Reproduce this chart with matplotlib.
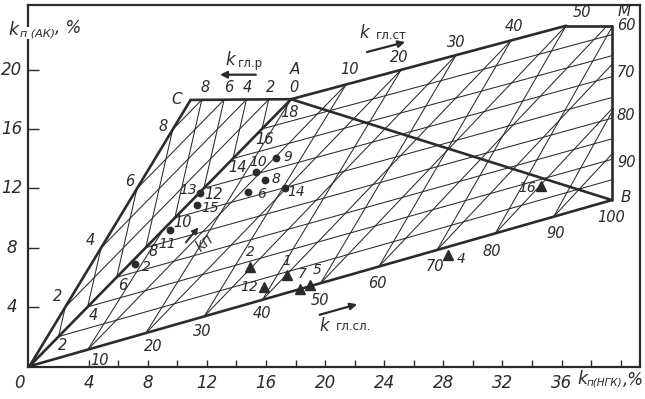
import matplotlib
matplotlib.use("Agg")
import matplotlib.pyplot as plt
from matplotlib.patches import Polygon
import numpy as np

plt.rcParams["font.family"] = ["Liberation Sans Narrow", "DejaVu Sans"]
plt.rcParams["font.style"] = "italic"

INK = "#2b2b2b"

# nomogram corner points (data units)
O = np.array([0.0, 0.0])
C = np.array([10.9, 17.95])
A = np.array([17.7, 18.0])
TOPBEND = np.array([36.3, 22.95])
M = np.array([39.4, 22.95])
B = np.array([39.4, 11.2])

# sample points
dot_x = [16.70, 15.30, 15.91, 14.78, 17.26, 11.52, 11.30, 9.49, 7.13]
dot_y = [14.07, 13.07, 12.57, 11.72, 11.99, 11.66, 10.87, 9.21, 6.91]
dot_lab = ["9", "10", "8", "6", "14", "13", "15", "11", "2"]

tri_x = [14.90, 15.84, 17.45, 18.32, 18.95, 28.28, 34.63]
tri_y = [6.71, 5.37, 6.17, 5.19, 5.46, 7.47, 12.15]
tri_lab = ["2", "12", "1", "7", "5", "4", "16"]

# scales
kp_vals = [2, 4, 6, 8, 10, 12, 14, 16, 18]
kgr_vals = [8, 6, 4, 2, 0]
kst_top = [10, 20, 30, 40, 50]
kst_side = [60, 70, 80, 90]
ksl_vals = [10, 20, 30, 40, 50, 60, 70, 80, 90, 100]

xticks_major = [0, 4, 8, 12, 16, 20, 24, 28, 32, 36]
yticks_major = [4, 8, 12, 16, 20]

KP_MAX = 18.0


def line(ax, p, q, lw=0.75, clip=None):
    ln, = ax.plot([p[0], q[0]], [p[1], q[1]], color=INK, lw=lw, solid_capstyle="round")
    if clip is not None:
        ln.set_clip_path(clip)


def txt(ax, x, y, s, size=10, **kw):
    ax.text(x, y, s, ha="center", va="center", fontsize=size, color=INK, **kw)


fig = plt.figure(figsize=(6.45, 3.99), dpi=100)
ax = fig.add_axes([0.0434, 0.0802, 0.9488, 0.9073])
ax.set_xlim(-0.1, 41.3)
ax.set_ylim(-0.05, 24.35)
for s in ax.spines.values():
    s.set_color(INK)
    s.set_linewidth(1.6)

ax.set_xticks(np.arange(4, 41, 2))
ax.set_xticklabels([])
ax.set_yticks(yticks_major)
ax.set_yticklabels([])
ax.tick_params(axis="x", direction="in", length=5, width=1.0, color=INK)
ax.tick_params(axis="y", direction="in", length=8, width=1.0, color=INK)

for v in xticks_major:
    txt(ax, v - (0.65 if v == 0 else 0), -1.1, str(v), size=12, clip_on=False)
for v in yticks_major:
    txt(ax, -1.2, v, str(v), size=12, clip_on=False)

# axis titles
ax.text(-1.11, 22.68, "k", fontsize=12.5, color=INK, ha="center", va="center", clip_on=False)
ax.text(-0.64, 22.45, "п (АК)", fontsize=8, color=INK, ha="left", va="center", clip_on=False,
        bbox=dict(fc="white", ec="none", pad=0.6))
ax.text(1.75, 22.82, ", %", fontsize=12, color=INK, ha="left", va="center", clip_on=False)
ax.text(37.43, -0.87, "k", fontsize=12.5, color=INK, ha="center", va="center", clip_on=False)
ax.text(37.7, -1.07, "п(НГК)", fontsize=7.5, color=INK, ha="left", va="center", clip_on=False)
ax.text(40.15, -0.9, ",%", fontsize=12, color=INK, ha="left", va="center", clip_on=False)

# clip regions
left_tri = Polygon([O, C, A], closed=True, transform=ax.transData, fc="none", ec="none")
main_reg = Polygon([O, A, TOPBEND, M, B], closed=True, transform=ax.transData, fc="none", ec="none")
ax.add_patch(left_tri)
ax.add_patch(main_reg)

# --- left triangle: dispersed clay grid
a_dir = A / KP_MAX               # clean sand step per 1 % of porosity
g_dir = C / 9.0 - A / KP_MAX     # shift per 1 % of dispersed clay
for v in kp_vals[:-1]:
    p = v * a_dir
    line(ax, p, p + 20 * g_dir, clip=left_tri)
for v in kgr_vals[:-1]:
    p = v * (a_dir + g_dir)
    line(ax, p, p + 20 * a_dir, clip=left_tri)

# --- main region: structural / layered clay grid
def bottom(k):
    return B * k / 100.0


def top(k):
    return A + (TOPBEND - A) * k / 50.0


for v in kp_vals[:-1]:
    u = v / KP_MAX
    p0 = bottom(0) + u * (top(0) - bottom(0))
    p1 = bottom(160) + u * (top(160) - bottom(160))
    line(ax, p0, p1, clip=main_reg)
for k in ksl_vals[:-1]:
    b = bottom(k)
    line(ax, b, b + 2.5 * (top(k) - b), clip=main_reg)
for k in ksl_vals[:-1]:
    b = bottom(k)
    line(ax, b, b + 2.5 * (top(k - 20) - b), clip=main_reg)

# --- thick outline
for p, q in [(O, C), (C, A), (O, A), (A, TOPBEND), (TOPBEND, M), (M, B), (O, B), (A, B)]:
    line(ax, p, q, 1.9)

# points
ax.plot(dot_x, dot_y, "o", ms=4.6, color=INK)
ax.plot(tri_x, tri_y, "^", ms=7, color=INK)
dot_pos = {"9": (17.47, 14.09), "10": (15.44, 13.76), "8": (16.66, 12.62), "6": (15.69, 11.61),
           "14": (18.05, 11.72), "13": (10.71, 11.88), "15": (12.2, 10.66), "11": (9.29, 8.26),
           "2": (7.94, 6.71)}
for s in dot_lab:
    txt(ax, *dot_pos[s], s)
tri_pos = {"2": (14.97, 7.72), "12": (14.85, 5.37), "1": (17.4, 7.11), "7": (18.45, 6.24),
           "5": (19.45, 6.46), "4": (29.2, 7.25), "16": (33.68, 12.01)}
for s in tri_lab:
    txt(ax, *tri_pos[s], s)

# scale labels
txt(ax, 9.97, 18.0, "C", size=11)
txt(ax, 17.94, 20.0, "A", size=11)
txt(ax, 40.24, 23.9, "M", size=11)
txt(ax, 40.37, 11.4, "B", size=11)
for v, x in zip(kgr_vals, [11.86, 13.48, 14.76, 16.32, 17.87]):
    txt(ax, x, 18.8, str(v), size=10.5)
for v, (x, y) in zip([8, 6, 4, 2], [(9.02, 16.17), (6.79, 12.42), (4.09, 8.46), (1.93, 4.70)]):
    txt(ax, x, y, str(v), size=10.5)
kp_pos = [(2.26, 1.41), (4.29, 3.42), (6.32, 5.44), (8.34, 7.72), (10.37, 9.66),
          (12.45, 11.6), (14.09, 13.42), (15.91, 15.30), (17.6, 17.11)]
for v, (x, y) in zip(kp_vals, kp_pos):
    txt(ax, x, y, str(v), size=10.5)
ksl_pos = [(4.76, 0.40), (8.34, 1.34), (11.66, 2.35), (15.71, 3.56), (19.63, 4.43),
           (23.55, 5.57), (27.4, 6.71), (31.3, 7.72), (35.6, 8.93), (39.36, 10.0)]
for v, (x, y) in zip(ksl_vals, ksl_pos):
    txt(ax, x, y, str(v), size=10.5)
kst_pos = [(21.66, 20.0), (25.03, 20.81), (28.88, 21.81), (32.8, 22.89), (37.4, 23.83)]
for v, (x, y) in zip(kst_top, kst_pos):
    txt(ax, x, y, str(v), size=10.5)
for v, y in zip(kst_side, [22.95, 19.8, 16.91, 13.76]):
    txt(ax, 40.37, y, str(v), size=10.5)

# scale names with arrows
txt(ax, 13.55, 20.67, "k", size=12)
txt(ax, 14.95, 20.38, "гл.р", size=8.5, style="normal")
ax.annotate("", xy=(12.7, 19.65), xytext=(15.5, 19.65),
            arrowprops=dict(arrowstyle="-|>", color=INK, lw=1.6, mutation_scale=10))
txt(ax, 22.67, 22.48, "k", size=12)
txt(ax, 24.45, 22.28, "гл.ст", size=8.5, style="normal")
ax.annotate("", xy=(25.6, 21.9), xytext=(22.65, 21.13),
            arrowprops=dict(arrowstyle="-|>", color=INK, lw=1.6, mutation_scale=10))
txt(ax, 19.97, 2.68, "k", size=12)
txt(ax, 21.95, 2.7, "гл.сл.", size=8.5, style="normal")
ax.annotate("", xy=(22.35, 4.23), xytext=(19.45, 3.42),
            arrowprops=dict(arrowstyle="-|>", color=INK, lw=1.6, mutation_scale=10))
txt(ax, 11.85, 8.3, "kп", size=10.5, rotation=40)
ax.annotate("", xy=(11.55, 9.5), xytext=(10.45, 8.2),
            arrowprops=dict(arrowstyle="-|>", color=INK, lw=1.4, mutation_scale=9))

plt.savefig("out.png", dpi=100)
